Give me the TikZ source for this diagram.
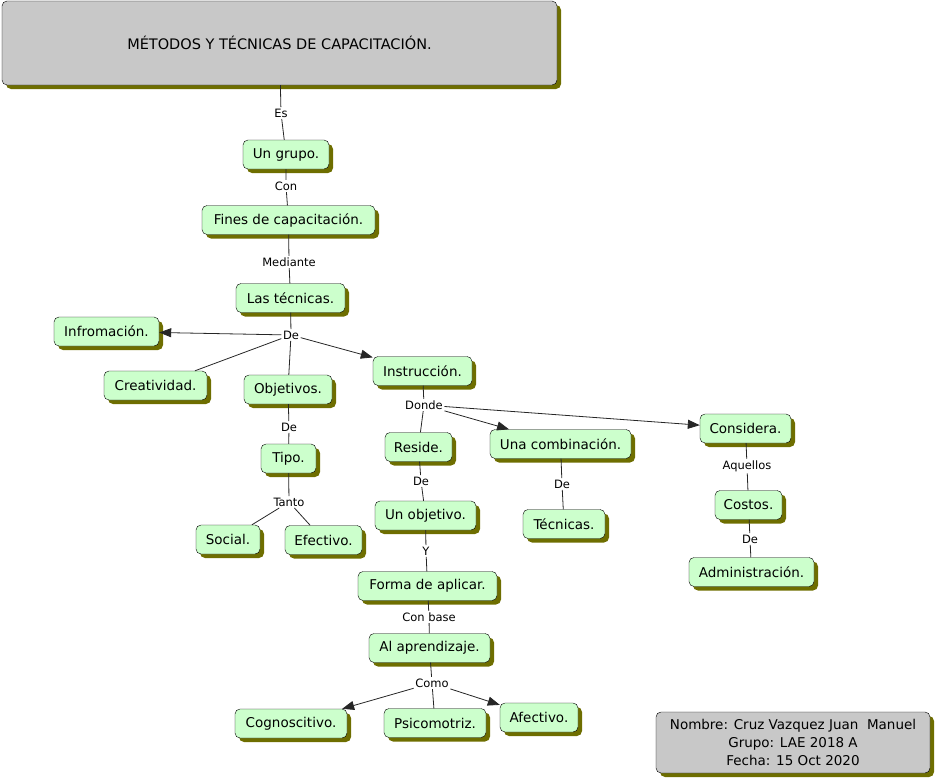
\documentclass[tikz,border=0pt]{standalone}
\usepackage{fontspec}
\setmainfont{DejaVu Sans}
\usepackage{tikz}
\usetikzlibrary{arrows.meta, shadows}

\definecolor{nodegreen}{RGB}{204,255,204}
\definecolor{shadowolive}{RGB}{110,110,0}
\definecolor{boxgray}{RGB}{200,200,200}

\begin{document}
\begin{tikzpicture}[x=1pt, y=-1pt,
    concept/.style={rectangle, draw, rounded corners=5pt, fill=nodegreen,
                    font=\fontsize{13.5}{16}\selectfont, inner xsep=4pt,
                    minimum height=29pt,
                    drop shadow={shadow xshift=4pt, shadow yshift=-4pt, fill=shadowolive, opacity=1}},
    greybox/.style={concept, fill=boxgray},
    linkword/.style={font=\fontsize{11.5}{13}\selectfont, inner sep=1.5pt},
    link/.style={draw=black!85, line width=0.8pt},
    linkarrow/.style={link, -{Triangle[length=12pt, width=9pt]}}
]
\useasboundingbox (0,0) rectangle (937,780);

% main concepts
\node[greybox, minimum width=555pt, minimum height=84pt,
      font=\fontsize{14.5}{17}\selectfont] (title) at (279.5,43) {MÉTODOS Y TÉCNICAS DE CAPACITACIÓN.};
\node[concept, minimum width=86pt]  (grupo)    at (286,154.5) {Un grupo.};
\node[concept, minimum width=173pt] (fines)    at (288.5,220) {Fines de capacitación.};
\node[concept, minimum width=109pt] (tecnicas) at (290.5,298) {Las técnicas.};
\node[concept, minimum width=105pt] (info)     at (106.5,331.5) {Infromación.};
\node[concept, minimum width=103pt] (creat)    at (155.5,385.5) {Creatividad.};
\node[concept, minimum width=88pt]  (objet)    at (288,389.5) {Objetivos.};
\node[concept, minimum width=99pt]  (instr)    at (422.5,371) {Instrucción.};
\node[concept, minimum width=55pt]  (tipo)     at (288.5,458.5) {Tipo.};
\node[concept, minimum width=64pt]  (social)   at (228,539.5) {Social.};
\node[concept, minimum width=77pt]  (efect)    at (323.5,540) {Efectivo.};
\node[concept, minimum width=67pt]  (reside)   at (418.5,447) {Reside.};
\node[concept, minimum width=141pt] (combi)    at (560.5,444) {Una combinación.};
\node[concept, minimum width=91pt]  (consid)   at (745.5,428.5) {Considera.};
\node[concept, minimum width=82pt]  (tecs)     at (564,524) {Técnicas.};
\node[concept, minimum width=67pt]  (costos)   at (748.5,505) {Costos.};
\node[concept, minimum width=125pt] (admin)    at (751.5,572) {Administración.};
\node[concept, minimum width=101pt] (unobj)    at (425.5,515.5) {Un objetivo.};
\node[concept, minimum width=139pt] (forma)    at (427.5,586) {Forma de aplicar.};
\node[concept, minimum width=121pt] (aprend)   at (429.5,648) {Al aprendizaje.};
\node[concept, minimum width=112pt] (cogno)    at (291,723.5) {Cognoscitivo.};
\node[concept, minimum width=102pt] (psico)    at (435,723) {Psicomotriz.};
\node[concept, minimum width=78pt]  (afect)    at (539,717.5) {Afectivo.};
\node[greybox, align=center, minimum width=274pt, minimum height=61pt,
      font=\fontsize{13.5}{18}\selectfont] (autor) at (793,742.5)
      {Nombre: Cruz Vazquez Juan~~Manuel\\Grupo: LAE 2018 A\\Fecha: 15 Oct 2020};

% linking words
\node[linkword] (es)       at (281,113) {Es};
\node[linkword] (con)      at (286,186) {Con};
\node[linkword] (mediante) at (289,262) {Mediante};
\node[linkword] (de1)      at (291,335) {De};
\node[linkword] (de2)      at (289,427) {De};
\node[linkword] (tanto)    at (289,502) {Tanto};
\node[linkword] (donde)    at (424,405) {Donde};
\node[linkword] (de3)      at (421,481) {De};
\node[linkword] (y)        at (426,551) {Y};
\node[linkword] (conbase)  at (429,617) {Con base};
\node[linkword] (como)     at (432,683) {Como};
\node[linkword] (de4)      at (562,484) {De};
\node[linkword] (aquellos) at (747,466) {Aquellos};
\node[linkword] (de5)      at (750,539) {De};

% connectors
\draw[link] (title) -- (es) -- (grupo);
\draw[link] (grupo) -- (con) -- (fines);
\draw[link] (fines) -- (mediante) -- (tecnicas);
\draw[link] (tecnicas) -- (de1);
\draw[linkarrow] (de1) -- (info);
\draw[link] (de1) -- (creat);
\draw[link] (de1) -- (objet);
\draw[linkarrow] (de1) -- (instr);
\draw[link] (objet) -- (de2) -- (tipo);
\draw[link] (tipo) -- (tanto);
\draw[link] (tanto) -- (social);
\draw[link] (tanto) -- (efect);
\draw[link] (instr) -- (donde) -- (reside);
\draw[linkarrow] (donde) -- (combi);
\draw[linkarrow] (donde) -- (consid);
\draw[link] (combi) -- (de4) -- (tecs);
\draw[link] (consid) -- (aquellos) -- (costos);
\draw[link] (costos) -- (de5) -- (admin);
\draw[link] (reside) -- (de3) -- (unobj);
\draw[link] (unobj) -- (y) -- (forma);
\draw[link] (forma) -- (conbase) -- (aprend);
\draw[link] (aprend) -- (como);
\draw[linkarrow] (como) -- (cogno);
\draw[link] (como) -- (psico);
\draw[linkarrow] (como) -- (afect);
\end{tikzpicture}
\end{document}
